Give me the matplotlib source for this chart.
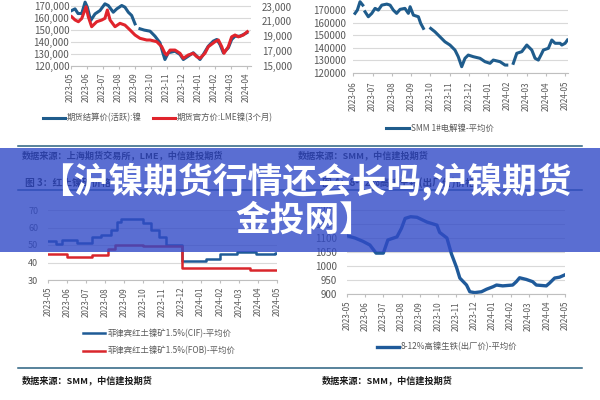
import numpy as np
import matplotlib
matplotlib.use("Agg")
import matplotlib.pyplot as plt
from matplotlib.patches import Rectangle
from matplotlib.lines import Line2D
from matplotlib.ticker import FuncFormatter

plt.rcParams['font.family'] = ['Noto Sans CJK SC', 'DejaVu Sans']

nan = np.nan

# ---- chart 1: SHFE settle (left axis) vs LME 3M (right axis), month index 0 = 2023-05
c1_labels = ['2023-05', '2023-06', '2023-07', '2023-08', '2023-09', '2023-10',
             '2023-11', '2023-12', '2024-01', '2024-02', '2024-03', '2024-04']
shfe_x = [0.06, 0.27, 0.46, 0.69, 0.9, 1.04, 1.25, 1.52, 1.83, 2.14, 2.35, 2.66, 2.88,
          3.19, 3.39, 3.6, 3.81, 4.02, 4.15, 4.33, 4.6, 4.96, 5.27, 5.58, 5.79, 5.89,
          6.1, 6.52, 6.83, 7.04, 7.35, 7.66, 7.88, 8.08, 8.29, 8.6, 8.91, 9.13, 9.33,
          9.54, 9.85, 10.06, 10.27, 10.58, 10.79, 11.0]
shfe_y = [165800, 167200, 163300, 163300, 172800, 168600, 157500, 163000, 165800,
          171400, 170000, 164400, 167200, 170000, 168600, 164400, 161700, 154700, nan,
          150600, 149500, 148600, 144400, 138900, 129200, 125000, 130600, 131900,
          129200, 125000, 127800, 130600, 127800, 125000, 129200, 136100, 140300,
          141700, 137500, 130600, 134700, 141700, 144400, 144400, 145800, 147200]
lme_x = [0.06, 0.27, 0.48, 0.69, 0.96, 1.1, 1.31, 1.63, 1.94, 2.14, 2.29, 2.46, 2.77,
         3.08, 3.39, 3.71, 4.02, 4.33, 4.75, 4.96, 5.38, 5.69, 5.89, 6.0, 6.21, 6.52,
         6.83, 7.04, 7.35, 7.66, 7.88, 8.08, 8.39, 8.6, 9.02, 9.23, 9.44, 9.58, 9.85,
         10.06, 10.27, 10.48, 10.79, 11.04]
lme_y = [21640, 21200, 20960, 21400, 23000, 21640, 20280, 20960, 21190, 21420, 22550,
         21190, 20280, 20740, 20500, 19830, 19150, 18700, 18470, 18470, 18240, 17560,
         16660, 16430, 17100, 17100, 16660, 15980, 16430, 16660, 16200, 15980, 16660,
         17560, 18240, 18470, 17560, 16660, 17560, 18900, 19150, 18900, 19150, 19600]

# ---- chart 2: SMM 1# nickel, month index 0 = 2023-06
c2_labels = ['2023-06', '2023-07', '2023-08', '2023-09', '2023-10', '2023-11',
             '2023-12', '2024-01', '2024-02', '2024-03', '2024-04', '2024-05']
smm_x = [0.09, 0.21, 0.35, 0.49, 0.55, 0.61, 0.78, 0.96, 1.13, 1.3, 1.48, 1.74, 1.91,
         2.08, 2.25, 2.43, 2.68, 2.86, 2.95, 3.12, 3.38, 3.5, 3.64, 3.8, 4.02, 4.24,
         4.5, 4.76, 5.02, 5.28, 5.45, 5.63, 5.8, 5.97, 6.23, 6.58, 6.84, 7.1, 7.27,
         7.62, 7.88, 7.97, 8.1, 8.31, 8.49, 8.75, 9.01, 9.27, 9.44, 9.61, 9.79, 9.87,
         10.13, 10.31, 10.48, 10.74, 10.83, 11.0, 11.12]
smm_y = [167400, 170000, 176700, 174000, nan, 168700, 164700, 167400, 171400, 170000,
         174000, 174800, 174000, 170000, 167400, 170600, 171400, 167400, 172700,
         166000, 164700, 159400, 155400, nan, 155400, 152700, 148700, 144700, 142100,
         138100, 132800, 124800, 131500, 134100, 132800, 131500, 128800, 127500,
         130100, 128800, 126100, 126100, nan, 127500, 135500, 136800, 142100, 138100,
         131500, 130100, 135500, 138100, 139500, 146100, 143500, 143500, 142100,
         143500, 146100]

# ---- chart 3: laterite ore 1.5% (CIF / FOB), month index 0 = 2023-05
c3_labels = ['2023-05', '2023-06', '2023-07', '2023-08', '2023-09', '2023-10', '2023-11',
             '2023-12', '2024-01', '2024-02', '2024-03', '2024-04', '2024-05']
cif_x = [0.0, 0.4, 0.75, 1.5, 2.3, 2.8, 3.3, 3.6, 3.8, 5.0, 5.4, 5.8, 6.2, 7.0, 8.3,
         9.0, 9.9, 10.9, 11.9, 12.0]
cif_y = [52.5, 50.8, 52.8, 51.2, 54.4, 55.7, 58.6, 63.0, 65.0, 62.8, 58.6, 54.6, 50.0,
         41.0, 41.8, 44.9, 45.8, 44.9, 45.6, 45.6]
fob_x = [0.0, 1.0, 2.3, 3.15, 3.5, 5.0, 7.0, 10.6, 12.0]
fob_y = [44.9, 43.3, 44.3, 47.7, 50.0, 49.4, 36.7, 35.7, 35.7]

# ---- chart 4: 8-12% NPI, month index 0 = 2023-05
npi_x = [0.0, 0.44, 0.88, 1.26, 1.6, 2.0, 2.25, 2.75, 3.0, 3.2, 3.5, 3.85, 4.4, 4.95,
         5.1, 5.5, 5.75, 6.03, 6.21, 6.58, 6.76, 7.03, 7.4, 7.68, 8.04, 8.23, 8.57,
         9.12, 9.32, 9.5, 9.87, 10.22, 10.42, 10.97, 11.15, 11.43, 11.7, 11.98]
npi_y = [1108, 1100, 1088, 1075, 1046, 1046, 1093, 1104, 1135, 1170, 1176, 1174, 1157,
         1146, 1120, 1100, 1043, 995, 957, 932, 908, 905, 908, 917, 926, 932, 929, 932,
         944, 958, 952, 944, 932, 929, 939, 957, 960, 968]

BLUE = '#1f5c8c'
RED = '#e0242c'
GRAY = '#595959'
GRID = '#d9d9d9'
LINE = '#2a6080'

W, H = 600, 400
fig = plt.figure(figsize=(6, 4), dpi=100)
fig.patch.set_facecolor('white')


def px_axes(left, top, right, bottom):
    return fig.add_axes([left / W, 1 - bottom / H, (right - left) / W, (bottom - top) / H])


def style(ax, labels, xpad=3, ysize=7):
    for s in ['top', 'right', 'left']:
        ax.spines[s].set_visible(False)
    ax.spines['bottom'].set_color('#bfbfbf')
    ax.spines['bottom'].set_linewidth(0.8)
    ax.set_xticks(range(len(labels)))
    ax.set_xticklabels(labels, rotation=90, fontsize=5.8, color=GRAY)
    ax.tick_params(axis='x', length=2, color='#bfbfbf', pad=xpad)
    ax.tick_params(axis='y', length=0, labelsize=ysize, labelcolor=GRAY)
    ax.grid(axis='y', color=GRID, lw=0.8)
    ax.set_axisbelow(True)


# chart 1
ax1 = px_axes(70.7, -6.5, 250.7, 65.5)
ax1.plot(shfe_x, shfe_y, color=BLUE, lw=2.2, label='期货结算价(活跃):镍')
ax1.set_xlim(0, 11.25)
ax1.set_ylim(120000, 180000)
ax1.set_yticks(range(120000, 170001, 10000))
ax1.yaxis.set_major_formatter(FuncFormatter(lambda v, p: f'{int(v):,}'))
style(ax1, c1_labels)
ax1.tick_params(axis='y', pad=1)
ax1r = ax1.twinx()
ax1r.plot(lme_x, lme_y, color=RED, lw=2.2, label='期货官方价:LME镍(3个月)')
ax1r.set_ylim(15000, 24800)
ax1r.set_yticks(range(15000, 24000, 2000))
ax1r.yaxis.set_major_formatter(FuncFormatter(lambda v, p: f'{int(v):,}'))
for s in ax1r.spines.values():
    s.set_visible(False)
ax1r.tick_params(axis='y', length=0, labelsize=7, labelcolor=GRAY, pad=8)
h1, l1 = ax1.get_legend_handles_labels()
h2, l2 = ax1r.get_legend_handles_labels()
fig.legend(h1 + h2, l1 + l2, loc='center', bbox_to_anchor=(158 / W, 1 - 118 / H),
           ncol=2, frameon=False, fontsize=6, labelcolor=GRAY, handlelength=2.7,
           handletextpad=0.2, columnspacing=1.3)

# chart 2
ax2 = px_axes(353.3, -2.4, 568, 72.7)
ax2.plot(smm_x, smm_y, color=BLUE, lw=2.2, label='SMM 1#电解镍-平均价')
ax2.set_xlim(0, 11.15)
ax2.set_ylim(120000, 180000)
ax2.set_yticks(range(120000, 170001, 10000))
style(ax2, c2_labels, xpad=4)
ax2.tick_params(axis='y', pad=5)
ax2.legend(loc='center', bbox_to_anchor=(440 / W, 1 - 128 / H), bbox_transform=fig.transFigure,
           frameon=False, fontsize=6, labelcolor=GRAY, handlelength=2.7, handletextpad=0.2)

# chart 3
ax3 = px_axes(48, 210, 277, 280)
ax3.plot(cif_x, cif_y, color='#1e5b96', lw=1.8, drawstyle='steps-post',
         label='菲律宾红土镍矿1.5%(CIF)-平均价')
ax3.plot(fob_x, fob_y, color='#d9262c', lw=1.8, drawstyle='steps-post',
         label='菲律宾红土镍矿1.5%(FOB)-平均价')
ax3.set_xlim(0, 12)
ax3.set_ylim(30, 70)
ax3.set_yticks(range(30, 71, 10))
style(ax3, c3_labels, ysize=6.5)
ax3.tick_params(axis='y', pad=7)
ax3.legend(loc='center', bbox_to_anchor=(159 / W, 1 - 342 / H), bbox_transform=fig.transFigure,
           frameon=False, fontsize=6, labelcolor=GRAY, handlelength=2.7, handletextpad=0.2,
           labelspacing=1.0)

# chart 4
ax4 = px_axes(347, 196, 565, 294)
ax4.plot(npi_x, npi_y, color='#1f5a9a', lw=2.4, label='8-12%高镍生铁(出厂价)-平均价')
ax4.set_xlim(0, 12)
ax4.set_ylim(900, 1250)
ax4.set_yticks(range(900, 1201, 50))
style(ax4, c3_labels)
ax4.tick_params(axis='y', pad=7)
ax4.legend(loc='center', bbox_to_anchor=(447 / W, 1 - 347 / H), bbox_transform=fig.transFigure,
           frameon=False, fontsize=6, labelcolor=GRAY, handlelength=2.7, handletextpad=0.2)

# report frame: separators, sources, figure titles
for y in [146, 190, 368]:
    fig.add_artist(Line2D([18 / W, 582 / W], [1 - y / H, 1 - y / H], color=LINE, lw=1.1))
src_kw = dict(fontsize=6.6, fontweight='heavy', color='#1a1a1a', va='center', style='italic')
fig.text(22 / W, 1 - 155 / H, '数据来源：上海期货交易所，LME，中信建投期货', **src_kw)
fig.text(298 / W, 1 - 155 / H, '数据来源：SMM，中信建投期货', **src_kw)
fig.text(22 / W, 1 - 380 / H, '数据来源：SMM，中信建投期货', **src_kw)
fig.text(322 / W, 1 - 380 / H, '数据来源：SMM，中信建投期货', **src_kw)
fig.text(25 / W, 1 - 183 / H, '图 3：红土镍矿价格', fontsize=7, fontweight='bold',
         color='#1a1a1a', va='center')
fig.text(322 / W, 1 - 183 / H, '图 4：8-12%高镍生铁(出厂价)价格', fontsize=7,
         fontweight='bold', color='#1a1a1a', va='center')

# headline banner
fig.add_artist(Rectangle((0, 1 - 252 / H), 1, 104 / H, transform=fig.transFigure,
                         facecolor=(49 / 255, 74 / 255, 199 / 255), alpha=0.8,
                         edgecolor='none', zorder=5))
fig.text(305 / W, 1 - 181 / H, '【沪镍期货行情还会长吗,沪镍期货', fontsize=25,
         fontweight='heavy', color='white', ha='center', va='center', zorder=10)
fig.text(305 / W, 1 - 220 / H, '金投网】', fontsize=25, fontweight='heavy',
         color='white', ha='center', va='center', zorder=10)

fig.savefig('out.png', dpi=100)
